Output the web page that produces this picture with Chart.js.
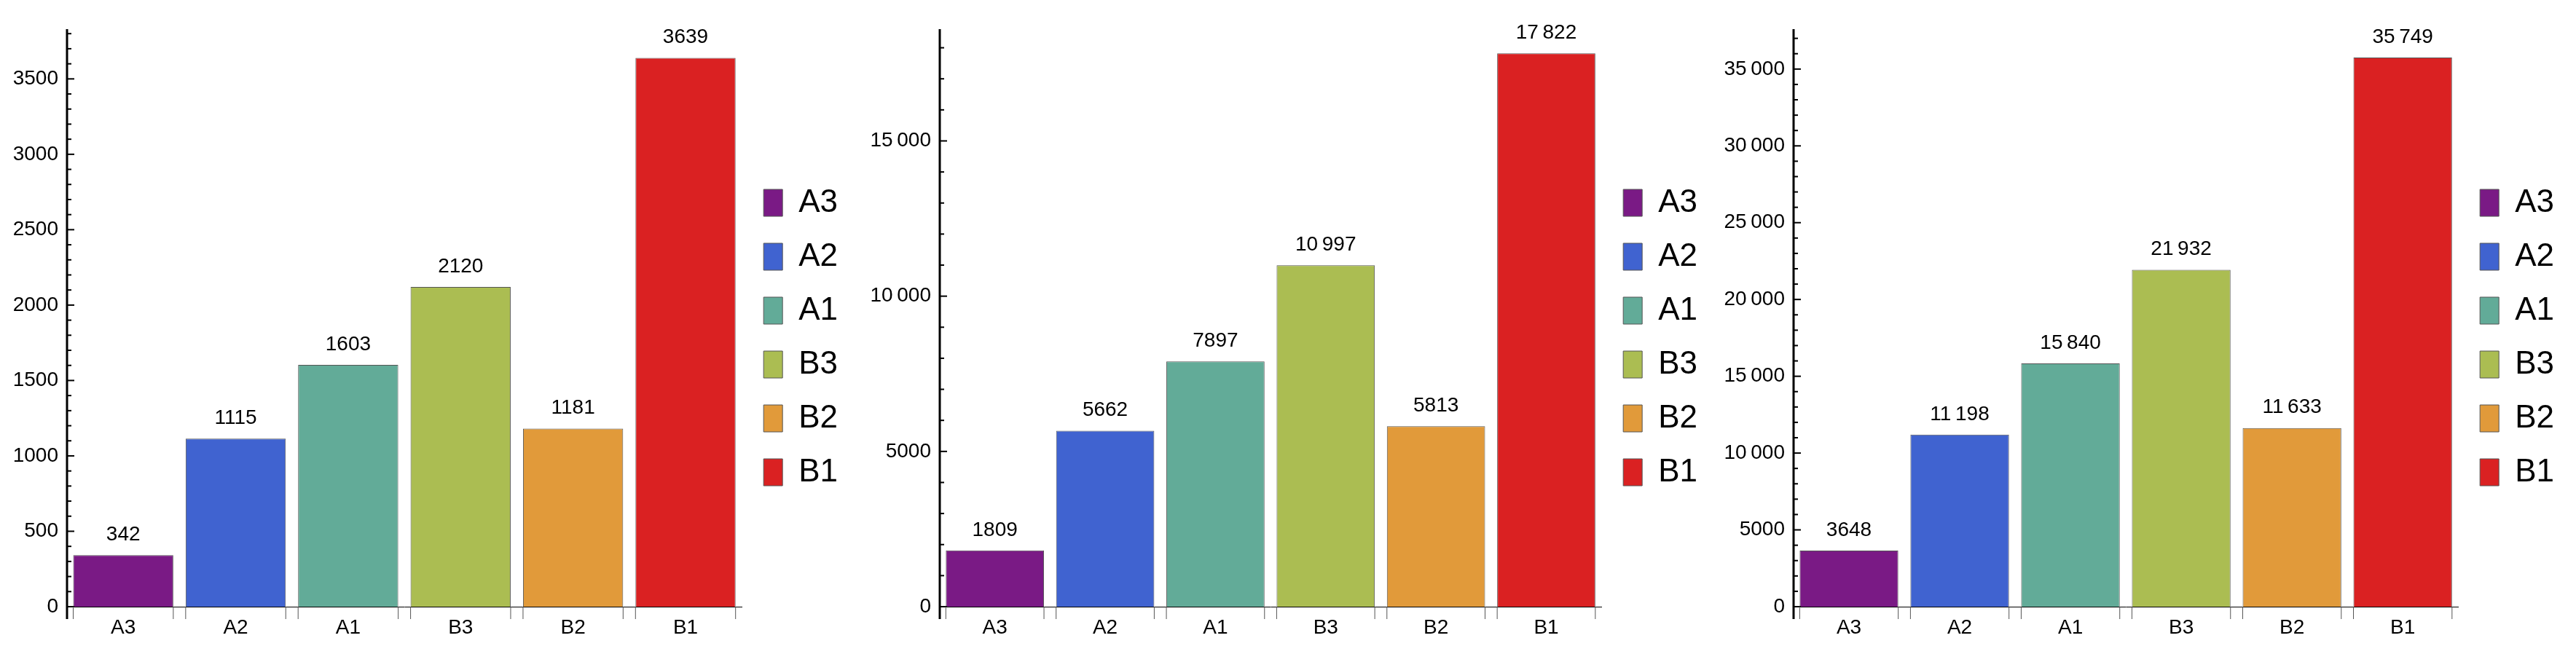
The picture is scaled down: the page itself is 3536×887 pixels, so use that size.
<!DOCTYPE html>
<html lang="en">
<head>
<meta charset="UTF-8">
<title>Bar charts</title>
<style>
    body { margin: 0; background: #ffffff; width: 3536px; height: 887px; overflow: hidden; }
    .panel { position: absolute; top: 0; height: 887px; }
</style>
</head>
<body>
<div class="panel" style="left:0px;width:1180px"><canvas id="c1"></canvas></div>
<div class="panel" style="left:1180px;width:1180px"><canvas id="c2"></canvas></div>
<div class="panel" style="left:2360px;width:1176px"><canvas id="c3"></canvas></div>
<script src="https://cdn.jsdelivr.net/npm/chart.js"></script>
<script>
const categories = ['A3', 'A2', 'A1', 'B3', 'B2', 'B1'];
const colors = ['#7a1a85', '#4063d0', '#62ab98', '#abbd52', '#e19a3a', '#da2122'];
const values1 = [342, 1115, 1603, 2120, 1181, 3639];
const values2 = [1809, 5662, 7897, 10997, 5813, 17822];
const values3 = [3648, 11198, 15840, 21932, 11633, 35749];

const FONT = "'Liberation Sans Narrow', 'Liberation Sans', Arial, sans-serif";

// thin space as thousands separator for 5+ digit numbers
function fmt(n) {
    const s = String(n);
    return s.length > 4 ? s.slice(0, -3) + '\u2009' + s.slice(-3) : s;
}

// labels above bars, minor/major ticks, category separators
const decor = {
    id: 'decor',
    afterDraw(chart, args, opts) {
        const ctx = chart.ctx;
        const y = chart.scales.y;
        const x0 = y.right;
        const zero = y.getPixelForValue(0);
        ctx.save();
        ctx.strokeStyle = '#000';
        ctx.lineWidth = 3;
        ctx.beginPath();
        ctx.moveTo(x0, chart.chartArea.top);
        ctx.lineTo(x0, zero + 17);
        ctx.stroke();
        ctx.lineWidth = 2;
        for (let v = 0; v <= y.max; v += opts.minor) {
            const py = y.getPixelForValue(v);
            const len = v % opts.major === 0 ? 10 : 6;
            ctx.beginPath();
            ctx.moveTo(x0, py);
            ctx.lineTo(x0 + len, py);
            ctx.stroke();
        }
        const meta = chart.getDatasetMeta(0);
        ctx.lineWidth = 1;
        ctx.strokeStyle = '#555';
        ctx.fillStyle = '#000';
        ctx.font = '28px ' + FONT;
        ctx.textAlign = 'center';
        ctx.textBaseline = 'bottom';
        meta.data.forEach((bar, i) => {
            [bar.x - bar.width / 2, bar.x + bar.width / 2].forEach(px => {
                ctx.beginPath();
                ctx.moveTo(px, zero);
                ctx.lineTo(px, zero + 17);
                ctx.stroke();
            });
            ctx.fillText(fmt(chart.data.datasets[0].data[i]), bar.x, bar.y - 14);
        });
        ctx.restore();
    }
};

function makeChart(id, values, yMax, major, minor, yWidth) {
    return new Chart(document.getElementById(id), {
        type: 'bar',
        data: {
            labels: categories,
            datasets: [{
                data: values,
                backgroundColor: colors,
                borderColor: '#555',
                borderWidth: 1,
                barPercentage: 0.89,
                categoryPercentage: 1
            }]
        },
        options: {
            responsive: true,
            maintainAspectRatio: false,
            animation: false,
            layout: { padding: { top: 40, right: 20 } },
            plugins: {
                tooltip: { enabled: false },
                decor: { major: major, minor: minor },
                legend: {
                    position: 'right',
                    labels: {
                        boxWidth: 26,
                        boxHeight: 37,
                        padding: 30,
                        color: '#000',
                        font: { size: 44, family: FONT },
                        generateLabels: chart => categories.map((c, i) => ({
                            text: c,
                            fillStyle: colors[i],
                            strokeStyle: '#555',
                            lineWidth: 1,
                            index: i
                        }))
                    }
                }
            },
            scales: {
                x: {
                    offset: true,
                    grid: { display: false },
                    border: { color: '#000', width: 1 },
                    ticks: { color: '#000', font: { size: 28, family: FONT }, padding: 4 },
                    afterFit: s => { s.height = 54; }
                },
                y: {
                    min: 0,
                    max: yMax,
                    grid: { display: false },
                    border: { display: false },
                    afterFit: s => { s.width = yWidth; },
                    afterBuildTicks: s => {
                        const t = [];
                        for (let v = 0; v <= yMax; v += major) t.push({ value: v });
                        s.ticks = t;
                    },
                    ticks: {
                        color: '#000',
                        padding: 4,
                        font: { size: 28, family: FONT },
                        callback: v => fmt(v)
                    }
                }
            }
        },
        plugins: [decor]
    });
}

makeChart('c1', values1, 3830, 500, 100, 92);
makeChart('c2', values2, 18600, 5000, 1000, 110);
makeChart('c3', values3, 37600, 5000, 1000, 102);
</script>
</body>
</html>
